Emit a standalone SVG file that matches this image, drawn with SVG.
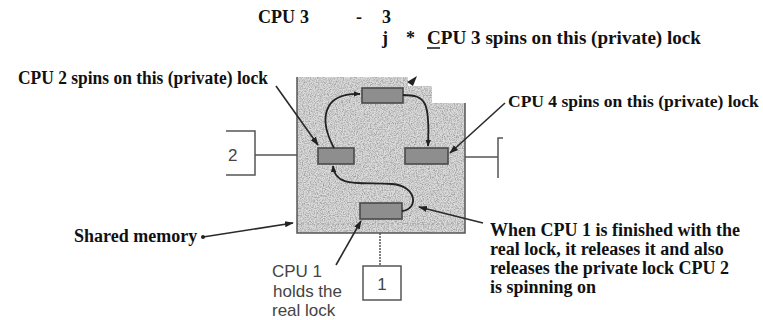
<svg xmlns="http://www.w3.org/2000/svg" width="763" height="320" viewBox="0 0 763 320">
<defs>
<style>
.lbl{font-family:"Liberation Serif","Times New Roman",serif;font-weight:bold;font-size:18px;fill:#111}
.sans{font-family:"Liberation Sans",Arial,sans-serif;font-size:17px;fill:#444}
.line{stroke:#2a2a2a;stroke-width:1.6;fill:none}
.edge{stroke:#555;stroke-width:1.5;fill:none}
.lock{fill:#8e8e8e;stroke:#4a4a4a;stroke-width:1.6}
.curve{stroke:#222;stroke-width:1.8;fill:none}
</style>
<marker id="ah" viewBox="0 0 10 10" refX="9" refY="5" markerWidth="7" markerHeight="7" orient="auto" markerUnits="userSpaceOnUse">
<path d="M0,1 L10,5 L0,9 z" fill="#222"/>
</marker>
<marker id="ahs" viewBox="0 0 10 10" refX="9" refY="5" markerWidth="9" markerHeight="9" orient="auto" markerUnits="userSpaceOnUse">
<path d="M0,1.5 L10,5 L0,8.5 z" fill="#222"/>
</marker>
<filter id="grain" x="0" y="0" width="100%" height="100%">
<feTurbulence type="fractalNoise" baseFrequency="0.85" numOctaves="2" seed="4" result="t"/>
<feColorMatrix in="t" type="matrix" values="0 0 0 0 0  0 0 0 0 0  0 0 0 0 0  0 0 0 -2.2 1.35" result="a"/>
<feComposite in="a" in2="SourceGraphic" operator="in"/>
</filter>
</defs>

<g id="memory">
<polygon points="297,77 408,77 408,86 432,86 432,103 465,103 465,233 297,233" fill="#dbdbdb"/>
<polygon points="297,77 408,77 408,86 432,86 432,103 465,103 465,233 297,233" fill="#000" opacity="0.3" filter="url(#grain)"/>
<line x1="297" y1="224" x2="465" y2="224" stroke="#a0a0a0" stroke-width="1" stroke-dasharray="2 3"/>
<path class="edge" d="M297,77 V233 H465 V103"/>
</g>

<g id="lock-top"><rect class="lock" x="362" y="88" width="41" height="15"/></g>
<g id="lock-left"><rect class="lock" x="318" y="148" width="36" height="16"/></g>
<g id="lock-right"><rect class="lock" x="405" y="148" width="43" height="16"/></g>
<g id="lock-bottom"><rect class="lock" x="360" y="203" width="42" height="16"/></g>

<g id="cpu2">
<path class="edge" d="M226,131 H255 V175 H226"/>
<text class="sans" x="228" y="161">2</text>
</g>
<g id="cpu4">
<path class="edge" d="M503,138 H498 V178"/>
</g>
<g id="cpu1">
<rect x="363" y="266" width="38" height="34" fill="#fff" stroke="#555" stroke-width="1.5"/>
<text class="sans" x="382" y="290" text-anchor="middle">1</text>
</g>

<g id="connectors">
<line class="edge" x1="255" y1="155" x2="297" y2="155"/>
<line class="edge" x1="465" y1="157" x2="498" y2="157"/>
<line class="edge" x1="380" y1="233" x2="380" y2="266" stroke-dasharray="2 1"/>
<path class="curve" d="M334,148 C320,122 320,93 360,94" marker-end="url(#ah)"/>
<path class="curve" d="M403,95 C426,95 430,102 428,146" marker-end="url(#ah)"/>
<path class="curve" d="M402,211 C419,209 417,186 392,184 C360,182 335,188 333,166" marker-end="url(#ah)"/>
<line class="line" x1="276" y1="86" x2="318" y2="145" marker-end="url(#ahs)"/>
<line class="line" x1="505" y1="103" x2="450" y2="153" marker-end="url(#ahs)"/>
<line class="line" x1="203" y1="237" x2="293" y2="223" marker-end="url(#ahs)"/>
<line class="line" x1="336" y1="265" x2="361" y2="221" marker-end="url(#ahs)"/>
<line class="line" x1="483" y1="223" x2="419" y2="207" marker-end="url(#ahs)"/>
<path d="M407,82 L417,76 L413,86 z" fill="#222"/>
<circle cx="203" cy="237" r="2" fill="#222"/>
</g>

<g id="labels">
<text class="lbl" x="258" y="23">CPU</text>
<text class="lbl" x="300" y="23">3</text>
<text class="lbl" x="356" y="23">-</text>
<text class="lbl" x="382" y="23">3</text>
<text class="lbl" x="382" y="44">j</text>
<text class="lbl" x="406" y="44">*</text>
<text class="lbl" x="427" y="44" textLength="274" lengthAdjust="spacingAndGlyphs">CPU 3 spins on this (private) lock</text>
<line x1="427" y1="48" x2="440" y2="48" stroke="#111" stroke-width="1.5"/>
<text class="lbl" x="18" y="84" textLength="250" lengthAdjust="spacingAndGlyphs">CPU 2 spins on this (private) lock</text>
<text class="lbl" x="508" y="107" style="font-size:17.5px">CPU 4 spins on this (private) lock</text>
<text class="lbl" x="74" y="242">Shared memory</text>
<text class="lbl" x="490" y="236">When CPU 1 is finished with the</text>
<text class="lbl" x="490" y="255">real lock, it releases it and also</text>
<text class="lbl" x="490" y="274">releases the private lock CPU 2</text>
<text class="lbl" x="490" y="293">is spinning on</text>
<text class="sans" x="272" y="277">CPU 1</text>
<text class="sans" x="273" y="297">holds the</text>
<text class="sans" x="272" y="316">real lock</text>
</g>
</svg>
